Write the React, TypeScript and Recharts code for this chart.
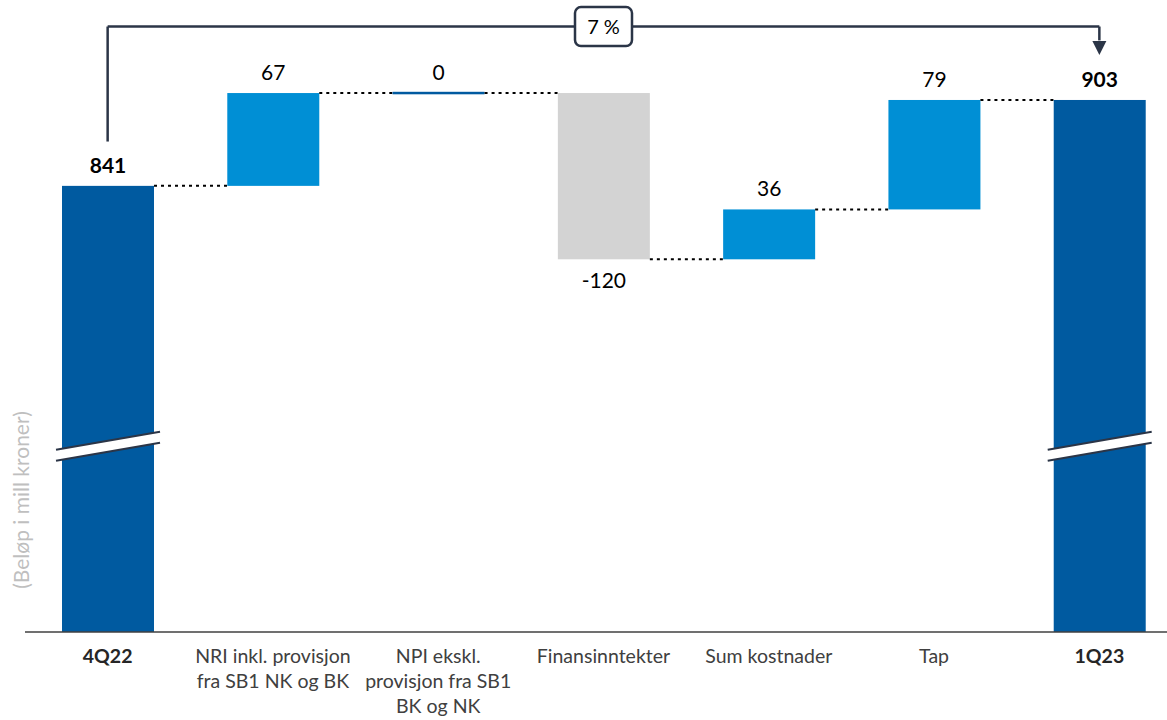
import React from 'react';
import { BarChart, Bar, XAxis, YAxis, ReferenceLine, ReferenceDot } from 'recharts';

const CATEGORIES = ['4Q22', 'NRI inkl. provisjon fra SB1 NK og BK', 'NPI ekskl. provisjon fra SB1 BK og NK', 'Finansinntekter', 'Sum kostnader', 'Tap', '1Q23'];
const TICK_LINES = [['4Q22'], ['NRI inkl. provisjon', 'fra SB1 NK og BK'], ['NPI ekskl.', 'provisjon fra SB1', 'BK og NK'], ['Finansinntekter'], ['Sum kostnader'], ['Tap'], ['1Q23']];
const CHANGES = [841, 67, 0, -120, 36, 79, 903];
const KINDS = ['total', 'delta', 'delta', 'delta', 'delta', 'delta', 'total'];
const Y_DOMAIN: [number, number] = [519, 960];
const BREAK_VALUE = 653;
const GROWTH_LABEL = '7 %';
const BRACKET_Y = 956;
const BRACKET_LEFT_END = 873;
const ARROW_BASE = 946;
const ARROW_TIP = 935.5;

const DARK = '#005AA0';
const LIGHT = '#008FD5';
const GRAY = '#D3D3D3';
const INK = '#2B3547';
const FONT = 'Lato, "Open Sans", sans-serif';

const W = 1200;
const H = 720;
const X_AXIS_H = 88;
const MARGIN = { top: 21, right: 18, bottom: 0, left: 0 };
const Y_AXIS_W = 25;
const BAND = (W - MARGIN.left - MARGIN.right - Y_AXIS_W) / CATEGORIES.length;

let running = 0;
const DATA = CATEGORIES.map((name, i) => {
  const kind = KINDS[i];
  const change = CHANGES[i];
  let low: number, high: number;
  if (kind === 'total') {
    low = Y_DOMAIN[0];
    high = change;
    running = change;
  } else {
    const next = running + change;
    low = Math.min(running, next);
    high = Math.max(running, next);
    running = next;
  }
  return { name, kind, change, low, high, lines: TICK_LINES[i] };
});

function WaterfallShape(props: any) {
  const { x, y, width, height, index, payload } = props;
  const top = Math.min(y, y + height);
  const h = Math.abs(height);
  const kind = payload.kind;
  const change = payload.change;
  const cx = x + width / 2;
  const fill = kind === 'total' ? DARK : change < 0 ? GRAY : change === 0 ? DARK : LIGHT;
  const endY = kind !== 'total' && change < 0 ? top + h : top;
  const els: any[] = [];
  if (h < 1.5) {
    els.push(<rect key="r" x={x} y={top - 1.25} width={width} height={2.5} fill={fill} />);
  } else {
    els.push(<rect key="r" x={x} y={top} width={width} height={h} fill={fill} />);
  }
  if (kind === 'total') {
    const bottom = top + h;
    const yb = bottom - (BREAK_VALUE - payload.low) * h / (payload.high - payload.low);
    const x0 = x - 6;
    const x1 = x + width + 6;
    const s = 9;
    const g = 5.5;
    els.push(
      <polygon key="bw" points={`${x0},${yb + s - g} ${x1},${yb - s - g} ${x1},${yb - s + g} ${x0},${yb + s + g}`} fill="#fff" />
    );
    els.push(<line key="b1" x1={x0} y1={yb + s - g} x2={x1} y2={yb - s - g} stroke={INK} strokeWidth={2} />);
    els.push(<line key="b2" x1={x0} y1={yb + s + g} x2={x1} y2={yb - s + g} stroke={INK} strokeWidth={2} />);
  }
  if (index < DATA.length - 1) {
    els.push(
      <line key="c" x1={x + width} y1={endY} x2={x + BAND} y2={endY} stroke="#000" strokeWidth={2} strokeDasharray="3 4" />
    );
  }
  const labelY = kind !== 'total' && change < 0 ? top + h + 29 : top - 13;
  els.push(
    <text key="t" x={cx} y={labelY} textAnchor="middle" fontFamily={FONT} fontSize={21}
      fontWeight={kind === 'total' ? 700 : 400} fill="#000">
      {String(change)}
    </text>
  );
  return <g>{els}</g>;
}

function Tick(props: any) {
  const { x, y, index } = props;
  const d = DATA[index];
  if (!d) return null;
  const bold = d.kind === 'total';
  return (
    <g>
      {d.lines.map((ln: string, i: number) => (
        <text key={i} x={x} y={y + 23 + i * 25} textAnchor="middle" fontFamily={FONT} fontSize={19.5}
          fontWeight={bold ? 700 : 400} fill={bold ? '#262626' : '#404040'}>
          {ln}
        </text>
      ))}
    </g>
  );
}

function GrowthBox(props: any) {
  const { cx, cy } = props;
  return (
    <g>
      <rect x={cx - 28.5} y={cy - 19.5} width={57} height={39} rx={6} ry={6} fill="#fff" stroke={INK} strokeWidth={2.5} />
      <text x={cx} y={cy + 7} textAnchor="middle" fontFamily={FONT} fontSize={20} fill="#000">{GROWTH_LABEL}</text>
    </g>
  );
}

function ArrowHead(props: any) {
  const { cx, cy } = props;
  return <polygon points={`${cx - 7},${cy - 14} ${cx + 7},${cy - 14} ${cx},${cy}`} fill={INK} />;
}

function YTitle(props: any) {
  return (
    <text x={20} y={500} transform="rotate(-90 20 500)" textAnchor="middle" dominantBaseline="central"
      fontFamily={FONT} fontSize={21} fill="#BFBFBF">
      (Beløp i mill kroner)
    </text>
  );
}

export default function App() {
  return (
    <div style={{ position: 'absolute', left: 0, top: 0, width: 1167, height: 720, overflow: 'hidden', background: '#fff' }}>
      <BarChart width={W} height={H} data={DATA} margin={MARGIN}>
        <XAxis dataKey="name" interval={0} tickLine={false} axisLine={{ stroke: '#404040', strokeWidth: 1.5 }} tick={<Tick />} height={X_AXIS_H} />
        <YAxis type="number" domain={Y_DOMAIN} allowDataOverflow width={Y_AXIS_W} tick={false} axisLine={false} tickLine={false}
          label={<YTitle />} />
        <Bar dataKey={(d: any) => [d.low, d.high]} barSize={92} isAnimationActive={false} shape={<WaterfallShape />} />
        <ReferenceLine segment={[{ x: CATEGORIES[0], y: BRACKET_Y }, { x: CATEGORIES[6], y: BRACKET_Y }]} stroke={INK} strokeWidth={2.5} ifOverflow="visible" />
        <ReferenceLine segment={[{ x: CATEGORIES[0], y: BRACKET_Y }, { x: CATEGORIES[0], y: BRACKET_LEFT_END }]} stroke={INK} strokeWidth={2.5} ifOverflow="visible" />
        <ReferenceLine segment={[{ x: CATEGORIES[6], y: BRACKET_Y }, { x: CATEGORIES[6], y: ARROW_BASE }]} stroke={INK} strokeWidth={2.5} ifOverflow="visible" />
        <ReferenceDot x={CATEGORIES[6]} y={ARROW_TIP} r={7} shape={<ArrowHead />} ifOverflow="visible" />
        <ReferenceDot x={CATEGORIES[3]} y={BRACKET_Y} r={20} shape={<GrowthBox />} ifOverflow="visible" />
      </BarChart>
    </div>
  );
}
